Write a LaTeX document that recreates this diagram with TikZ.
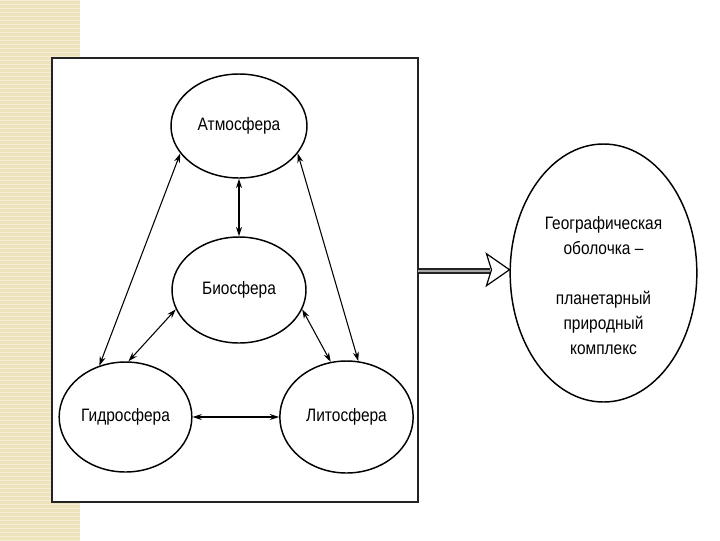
\documentclass[tikz,border=0pt]{standalone}
\usepackage{fontspec}
\setmainfont[FakeStretch=0.86]{Liberation Sans}
\usetikzlibrary{shapes.geometric,arrows.meta}
\definecolor{beige}{RGB}{238,226,188}
\definecolor{beigeline}{RGB}{246,238,212}
\definecolor{framec}{RGB}{35,35,35}
\begin{document}
\begin{tikzpicture}[x=0.75pt,y=-0.75pt,
  sphere/.style={draw=black,line width=1.1pt,ellipse,inner sep=0pt,fill=white,
    font=\fontsize{13.5}{15}\selectfont},
  link/.style={line width=0.8pt,{Stealth[length=7pt,width=4.5pt]}-{Stealth[length=7pt,width=4.5pt]}}]
\useasboundingbox (0,0) rectangle (720,540);
\fill[white] (0,0) rectangle (720,540);
% beige strip
\fill[beige] (0,0) rectangle (80,540);
\foreach \y in {0,4,...,540} \draw[beigeline,line width=0.6pt] (0,\y) -- (80,\y);
% frame
\draw[framec,line width=1.6pt,fill=white] (52,58) rectangle (418,502);
% spheres
\node[sphere,minimum width=102pt,minimum height=78pt] (atm) at (239,126) {Атмосфера};
\node[sphere,minimum width=100.5pt,minimum height=79.5pt] (bio) at (239,290) {Биосфера};
\node[sphere,minimum width=99.5pt,minimum height=82.5pt] (hyd) at (125.5,417) {Гидросфера};
\node[sphere,minimum width=100pt,minimum height=84pt] (lit) at (346.5,417) {Литосфера};
\node[sphere,minimum width=140pt,minimum height=193.5pt] (geo) at (603.5,273) {};
\node[align=center,inner sep=0pt,font=\fontsize{13.5}{18.75}\selectfont] (geotext) at (603.5,286)
  {Географическая\\оболочка –\\[18.75pt]планетарный\\природный\\комплекс};
% connectors
\draw[link] (atm.south) -- (bio.north);
\draw[link] (atm.205) -- (hyd.117);
\draw[link] (atm.335) -- (lit.78);
\draw[link] (bio.197) -- (hyd.87);
\draw[link] (bio.343) -- (lit.106);
\draw[link] (hyd.east) -- (lit.west);
% hollow arrow to geo
\coordinate (fr) at (418,271);
\coordinate (ab) at (490,271);
\draw[draw=framec,line width=5pt] (fr) -- (ab);
\draw[draw=gray!70,line width=1.6pt] (fr) -- (ab);
\draw[line width=0.9pt,fill=white,line join=miter] (geo.178.8) -- ++(-23,-16) -- ++(5,16) -- ++(-5,16) -- cycle;
\end{tikzpicture}
\end{document}
